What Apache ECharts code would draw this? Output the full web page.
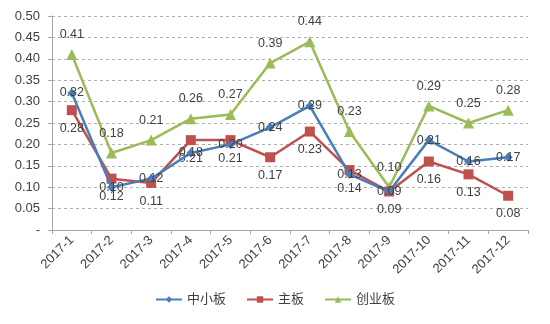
<!DOCTYPE html>
<html><head><meta charset="utf-8">
<script src="https://cdn.jsdelivr.net/npm/echarts@6/dist/echarts.min.js"></script>
<style>html,body{margin:0;padding:0;background:#fff}#c{width:550px;height:324px}</style>
</head><body><div id="c"></div>
<script>
const categories = ['2017-1','2017-2','2017-3','2017-4','2017-5','2017-6','2017-7','2017-8','2017-9','2017-10','2017-11','2017-12'];
const zhongxiao = [0.32,0.10,0.12,0.18,0.20,0.24,0.29,0.13,0.09,0.21,0.16,0.17];
const zhuban = [0.28,0.12,0.11,0.21,0.21,0.17,0.23,0.14,0.09,0.16,0.13,0.08];
const chuangye = [0.41,0.18,0.21,0.26,0.27,0.39,0.44,0.23,0.10,0.29,0.25,0.28];
const seriesNames = ['中小板','主板','创业板'];

const font = 'Liberation Sans, Noto Sans CJK SC, sans-serif';
const chart = echarts.init(document.getElementById('c'));
const lbl = (pos, dist) => ({show:true, position:pos, distance:dist, color:'#404040', fontSize:12.5, fontFamily:font, formatter: p => p.value.toFixed(2)});
chart.setOption({
  animation:false,
  grid:{left:52, right:22, top:16, bottom:94},
  legend:{bottom:13, left:'center', itemWidth:26, itemHeight:8, itemGap:20,
    textStyle:{color:'#404040', fontSize:13, fontFamily:font},
    data:seriesNames},
  xAxis:{type:'category', data:categories, boundaryGap:true,
    axisLine:{lineStyle:{color:'#a6a6a6'}},
    axisTick:{show:true, lineStyle:{color:'#a6a6a6'}, length:4},
    axisLabel:{rotate:45, color:'#404040', fontSize:13, fontFamily:font, margin:8}},
  yAxis:{type:'value', min:0, max:0.5, interval:0.05,
    axisLine:{show:true, lineStyle:{color:'#a6a6a6'}},
    axisTick:{show:true, lineStyle:{color:'#a6a6a6'}, length:4},
    splitLine:{show:true, lineStyle:{color:'#b0b0b0', type:[3,3]}},
    axisLabel:{color:'#404040', fontSize:13, fontFamily:font, margin:12,
      formatter: v => Math.abs(v) < 1e-9 ? '-' : v.toFixed(2)}},
  series:[
    {name:seriesNames[0], type:'line', data:zhongxiao, symbol:'diamond', symbolSize:9,
      itemStyle:{color:'#4a7ebb'}, lineStyle:{width:2.5, color:'#4a7ebb'}, label:lbl('inside',0), z:4},
    {name:seriesNames[1], type:'line', data:zhuban, symbol:'rect', symbolSize:10,
      itemStyle:{color:'#c0504d'}, lineStyle:{width:2.5, color:'#c0504d'}, label:lbl('bottom',7), z:3},
    {name:seriesNames[2], type:'line', data:chuangye, symbol:'triangle', symbolSize:11,
      itemStyle:{color:'#9bbb59'}, lineStyle:{width:2.5, color:'#9bbb59'}, label:lbl('top',8), z:2}
  ]
});
</script></body></html>
